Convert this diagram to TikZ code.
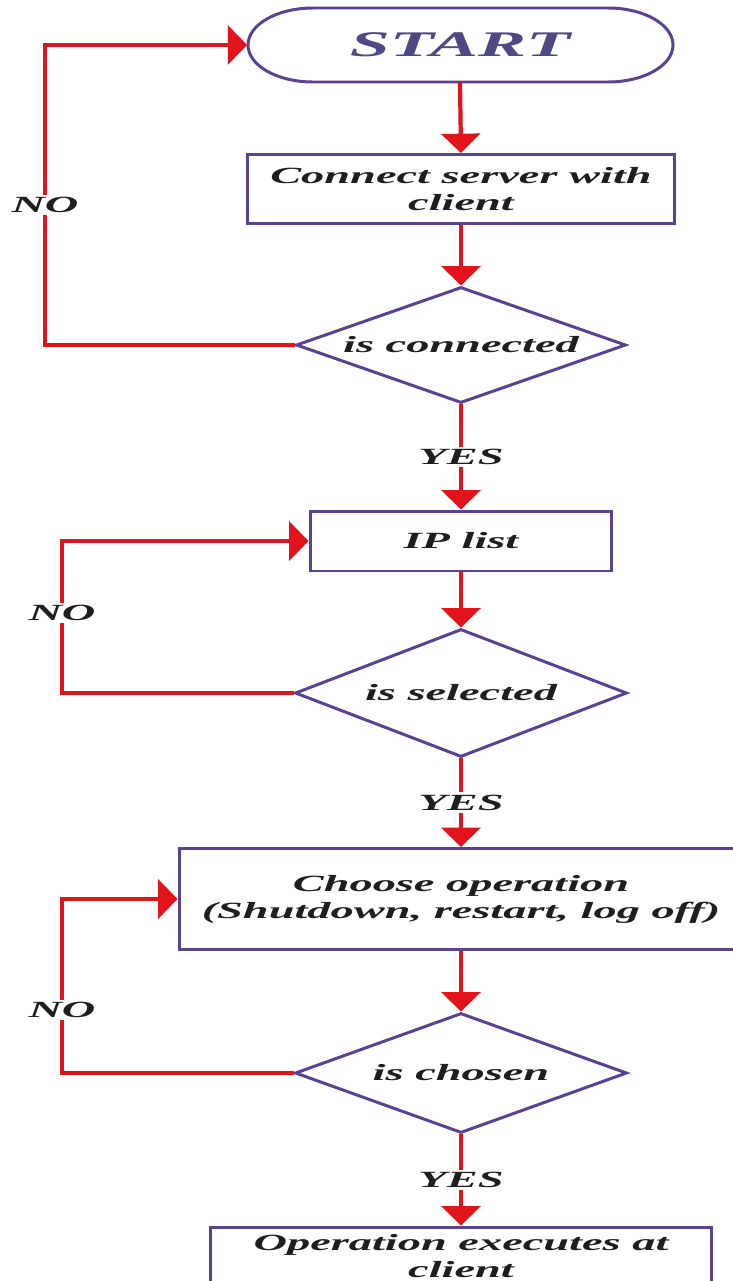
\documentclass[tikz,border=0pt]{standalone}
\usepackage{fontspec}
\newfontfamily\flowfont[FakeStretch=2]{Liberation Serif}
\usetikzlibrary{shapes.geometric, arrows.meta}
\definecolor{boxline}{RGB}{88,66,145}
\definecolor{flowred}{RGB}{225,20,28}
\definecolor{flowtext}{RGB}{30,30,30}
\definecolor{starttext}{RGB}{78,72,132}

\begin{document}
\begin{tikzpicture}[x=0.02cm, y=-0.02cm,
  outline/.style={draw=boxline, line width=1.7pt},
  box/.style={outline, fill=white, align=center, inner sep=0pt, text=flowtext,
    font=\flowfont\bfseries\itshape\fontsize{13.2}{15.4}\selectfont},
  decision/.style={box, diamond, aspect=2.8},
  lbl/.style={fill=white, inner sep=1.5pt, text=flowtext,
    font=\flowfont\bfseries\itshape\fontsize{13.2}{15.4}\selectfont},
  flow/.style={draw=flowred, line width=2.4pt, -{Triangle[width=22pt,length=11pt]}}]
\path[use as bounding box, fill=white] (0,0) rectangle (733,1281);

% boxes
\node[text=starttext, minimum width=8.5cm, minimum height=1.48cm,
  font=\flowfont\bfseries\itshape\fontsize{20.5}{24}\selectfont] at (460,45) (start) {START};
\draw[outline] (313,8) -- (608,8) arc[start angle=-90, end angle=90, x radius=65, y radius=37]
  -- (313,82) arc[start angle=90, end angle=270, x radius=65, y radius=37] -- cycle;
\node[box, minimum width=8.54cm, minimum height=1.38cm] at (461,189) (conn) {Connect server with\\client};
\node[decision, minimum width=6.6cm, minimum height=2.32cm] at (461,345) (isconn) {is connected};
\node[box, minimum width=6.04cm, minimum height=1.2cm] at (461,541) (iplist) {IP list};
\node[decision, minimum width=6.64cm, minimum height=2.56cm] at (461,693) (issel) {is selected};
\node[box, minimum width=11.28cm, minimum height=2.02cm] at (461,899) (choose) {Choose operation\\(Shutdown, restart, log off)};
\node[decision, minimum width=6.64cm, minimum height=2.4cm] at (461,1073) (ischo) {is chosen};
\node[box, minimum width=10.02cm, minimum height=1.16cm] at (461,1256) (exec) {Operation executes at\\client};

% main flow
\draw[flow] (start.south) -- (conn.north);
\draw[flow] (conn.south) -- (isconn.north);
\draw[flow] (isconn.south) -- node[lbl] {YES} (iplist.north);
\draw[flow] (iplist.south) -- (issel.north);
\draw[flow] (issel.south) -- node[lbl] {YES} (choose.north);
\draw[flow] (choose.south) -- (ischo.north);
\draw[flow] (ischo.south) -- node[lbl] {YES} (exec.north);

% loops back
\coordinate (noA) at (45,205);
\coordinate (noB) at (62,613);
\coordinate (noC) at (62,1010);
\draw[flow] (isconn.west) -| (noA) |- (start.west);
\draw[flow] (issel.west) -| (noB) |- (iplist.west);
\draw[flow] (ischo.west) -| (noC) |- (choose.west);
\node[lbl] at (noA) {NO};
\node[lbl] at (noB) {NO};
\node[lbl] at (noC) {NO};
\end{tikzpicture}
\end{document}
